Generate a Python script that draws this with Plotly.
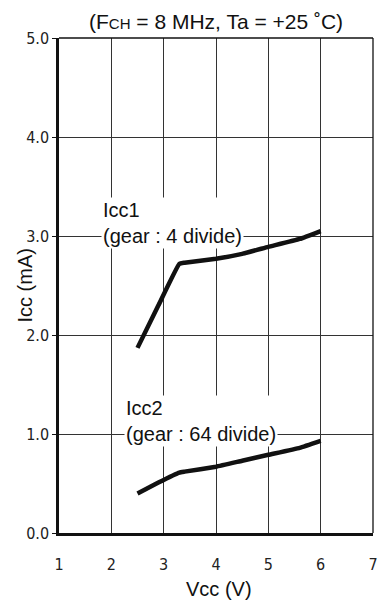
import plotly.graph_objects as go

# Data
vcc_icc1 = [2.5, 2.9, 3.3, 3.4, 4.0, 4.5, 5.0, 5.6, 6.0]
icc1_ma = [1.87, 2.30, 2.72, 2.73, 2.77, 2.82, 2.89, 2.97, 3.05]

vcc_icc2 = [2.5, 2.9, 3.3, 3.4, 4.0, 4.5, 5.0, 5.6, 6.0]
icc2_ma = [0.40, 0.51, 0.61, 0.62, 0.67, 0.73, 0.79, 0.86, 0.93]

x_ticks = [1, 2, 3, 4, 5, 6, 7]
y_ticks = [0.0, 1.0, 2.0, 3.0, 4.0, 5.0]
y_tick_labels = ["0.0", "1.0", "2.0", "3.0", "4.0", "5.0"]

title_text = "(F<span style='font-size:15px'>CH</span> = 8 MHz, Ta = +25 ˚C)"
x_title = "Vcc (V)"
y_title = "Icc (mA)"
label1 = "Icc1<br>(gear : 4 divide)"
label2 = "Icc2<br>(gear : 64 divide)"

fig = go.Figure()
line_style = dict(color="#111111", width=4.5, shape="spline", smoothing=0.3)
fig.add_trace(go.Scatter(x=vcc_icc1, y=icc1_ma, mode="lines", line=line_style,
                         showlegend=False, hoverinfo="skip"))
fig.add_trace(go.Scatter(x=vcc_icc2, y=icc2_ma, mode="lines", line=line_style,
                         showlegend=False, hoverinfo="skip"))

tick_font = dict(family="DejaVu Sans Condensed, Liberation Sans Narrow, sans-serif",
                 size=16, color="#222222")
main_font = "Liberation Sans, Arial, sans-serif"

fig.update_layout(
    width=379, height=603,
    margin=dict(l=59, r=1, t=38, b=70),
    paper_bgcolor="white", plot_bgcolor="white",
    xaxis=dict(
        range=[1, 7], tickvals=x_ticks, ticktext=[str(v) for v in x_ticks],
        showgrid=True, gridcolor="#333333", gridwidth=1,
        showline=True, linecolor="#111111", linewidth=2.5,
        ticks="", tickfont=tick_font, ticklabelstandoff=15,
        ticklabeloverflow="allow",
        zeroline=False, fixedrange=True,
    ),
    yaxis=dict(
        range=[0, 5], tickvals=y_ticks, ticktext=y_tick_labels,
        showgrid=True, gridcolor="#333333", gridwidth=1,
        showline=True, linecolor="#111111", linewidth=2.5,
        ticks="outside", ticklen=4, tickcolor="#111111", tickwidth=1,
        tickfont=tick_font, zeroline=False, fixedrange=True,
    ),
    shapes=[
        dict(type="line", xref="paper", yref="paper", x0=0, x1=1, y0=1, y1=1,
             line=dict(color="#111111", width=1.3)),
        dict(type="line", xref="paper", yref="paper", x0=1, x1=1, y0=0, y1=1,
             line=dict(color="#111111", width=1.3)),
    ],
    annotations=[
        dict(text=title_text, xref="paper", yref="paper", x=0.5, y=1, yanchor="bottom",
             xanchor="center", yshift=3, showarrow=False,
             font=dict(family=main_font, size=21, color="#111111")),
        dict(text=x_title, xref="paper", yref="paper", x=0.5, y=0, yanchor="middle",
             xanchor="center", yshift=-56, xshift=3, showarrow=False,
             font=dict(family=main_font, size=20, color="#111111")),
        dict(text=y_title, xref="paper", yref="paper", x=0, y=0.5, yanchor="middle",
             xanchor="center", xshift=-35, textangle=-90, showarrow=False,
             font=dict(family=main_font, size=20, color="#111111")),
        dict(text=label1, x=1.8, y=3.0, xref="x", yref="y", xanchor="left", yanchor="middle",
             yshift=13, align="left", showarrow=False, bgcolor="white", borderpad=1,
             font=dict(family=main_font, size=20, color="#111111")),
        dict(text=label2, x=2.25, y=1.0, xref="x", yref="y", xanchor="left", yanchor="middle",
             yshift=13, align="left", showarrow=False, bgcolor="white", borderpad=1,
             font=dict(family=main_font, size=20, color="#111111")),
    ],
)

fig.write_html("out.html", include_plotlyjs=True, config={"displayModeBar": False})
